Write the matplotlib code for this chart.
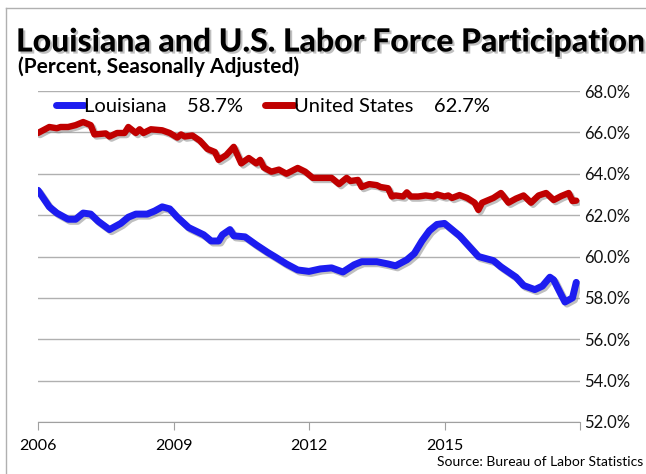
import matplotlib
matplotlib.use("Agg")
import matplotlib.pyplot as plt
import matplotlib.patheffects as pe
from matplotlib.lines import Line2D

# months since Jan 2006
us_month = [0, 3, 5, 6, 8, 10, 12, 14, 15, 18, 19, 21, 23, 24, 26, 27, 28, 30, 33, 35,
            37, 38, 39, 41, 43, 45, 47, 48, 50, 52, 53, 54, 56, 58, 59, 60, 62, 64, 66, 69,
            71, 73, 76, 78, 80, 82, 83, 85, 86, 88, 90, 91, 93, 94, 95, 97, 98, 99, 101, 103,
            105, 106, 108, 109, 110, 112, 114, 116, 117, 118, 121, 123, 125, 127, 129, 131, 133, 135, 137, 139,
            141, 142, 143]
us_rate = [65.97, 66.26, 66.2, 66.26, 66.26, 66.35, 66.5, 66.35, 65.9, 65.95, 65.8, 65.97, 65.97, 66.26, 65.97, 66.15, 65.97, 66.15, 66.1, 65.97,
           65.75, 65.9, 65.8, 65.85, 65.6, 65.2, 65.05, 64.67, 64.9, 65.3, 64.9, 64.5, 64.76, 64.5, 64.67, 64.3, 64.1, 64.2, 64.0, 64.28,
           64.1, 63.8, 63.8, 63.8, 63.5, 63.8, 63.65, 63.7, 63.36, 63.5, 63.45, 63.36, 63.3, 62.9, 62.95, 62.9, 63.1, 62.9, 62.9, 62.95,
           62.9, 63.0, 62.9, 62.95, 62.83, 62.97, 62.83, 62.6, 62.25, 62.6, 62.83, 63.07, 62.6, 62.8, 62.95, 62.6, 62.95, 63.07, 62.73, 62.92,
           63.07, 62.68, 62.7]

la_month = [0, 3, 5, 8, 10, 12, 14, 16, 19, 22, 24, 26, 29, 31, 33, 35, 37, 40, 44, 46,
            48, 49, 51, 52, 55, 58, 61, 63, 66, 69, 72, 75, 78, 81, 84, 86, 90, 93, 95, 98,
            100, 102, 104, 106, 108, 110, 112, 115, 117, 121, 123, 127, 129, 132, 134, 136, 137, 139, 140, 142,
            143]
la_rate = [63.2, 62.4, 62.1, 61.8, 61.8, 62.1, 62.05, 61.7, 61.3, 61.6, 61.9, 62.05, 62.05, 62.2, 62.4, 62.3, 61.9, 61.4, 61.05, 60.75,
           60.75, 61.05, 61.3, 61.0, 60.95, 60.56, 60.2, 59.98, 59.64, 59.35, 59.28, 59.4, 59.45, 59.25, 59.6, 59.75, 59.75, 59.64, 59.55, 59.84,
           60.15, 60.75, 61.25, 61.55, 61.6, 61.3, 61.0, 60.4, 60.0, 59.8, 59.5, 59.0, 58.6, 58.4, 58.57, 59.0, 58.87, 58.15, 57.8, 58.0,
           58.75]

year_ticks = [0, 36, 72, 108, 144]
year_labels = ["2006", "2009", "2012", "2015", ""]
y_ticks = [52, 54, 56, 58, 60, 62, 64, 66, 68]

W, H = 646, 474
fig = plt.figure(figsize=(W / 100, H / 100), dpi=100)
ax = fig.add_axes([38 / W, 1 - 422 / H, (580 - 38) / W, (422 - 91) / H])

shadow = [pe.SimpleLineShadow(offset=(1.5, -1.5), shadow_color="gray", alpha=0.5), pe.Normal()]
ax.plot(la_month, la_rate, color="#1c1cf0", lw=5, solid_capstyle="round",
        solid_joinstyle="round", path_effects=shadow, label="Louisiana    58.7%")
ax.plot(us_month, us_rate, color="#c00000", lw=4.6, solid_capstyle="round",
        solid_joinstyle="round", path_effects=shadow, label="United States    62.7%")

ax.set_xlim(0, 144)
ax.set_ylim(52, 68)
ax.set_yticks(y_ticks)
ax.set_yticklabels([f"{v:.1f}%" for v in y_ticks])
ax.yaxis.tick_right()
ax.tick_params(axis="y", length=0, pad=3, labelsize=12, labelcolor="#111111")
ax.grid(axis="y", color="#b0b0b0", lw=1)
ax.set_axisbelow(True)
ax.set_xticks(year_ticks)
ax.set_xticklabels(year_labels)
ax.tick_params(axis="x", length=6, color="#a0a0a0", direction="out", pad=6, labelsize=11.5)
for s in ["top", "left", "right"]:
    ax.spines[s].set_visible(False)
ax.spines["bottom"].set_color("#a0a0a0")

for lab in ax.get_xticklabels() + ax.get_yticklabels():
    lab.set_family("Lato")

leg = ax.legend(loc="upper left", bbox_to_anchor=(0.0, 1.035), ncol=2, frameon=False,
                handlelength=1.4, handletextpad=0.0, columnspacing=1.1,
                prop={"family": "Lato", "size": 14.5})
for h in leg.legend_handles:
    h.set_path_effects([])
    h.set_linewidth(5)

fig.text(16 / W, 1 - 42 / H, "Louisiana and U.S. Labor Force Participation", fontsize=23,
         fontweight="black", family="Lato", va="center",
         path_effects=[pe.withSimplePatchShadow(offset=(1.5, -1.5), shadow_rgbFace="gray", alpha=0.5)])
fig.text(18 / W, 1 - 67 / H, "(Percent, Seasonally Adjusted)", fontsize=15,
         fontweight="bold", family="Lato", va="center")
fig.text(643 / W, 1 - 462 / H, "Source: Bureau of Labor Statistics", fontsize=10,
         family="Lato", ha="right", va="center")

fig.add_artist(Line2D([6 / W, 6 / W], [0, 1 - 8 / H], color="#b0b0b0", lw=1))
fig.add_artist(Line2D([6 / W, 1], [1 - 8 / H, 1 - 8 / H], color="#b0b0b0", lw=1))

fig.savefig("out.png", dpi=100)
